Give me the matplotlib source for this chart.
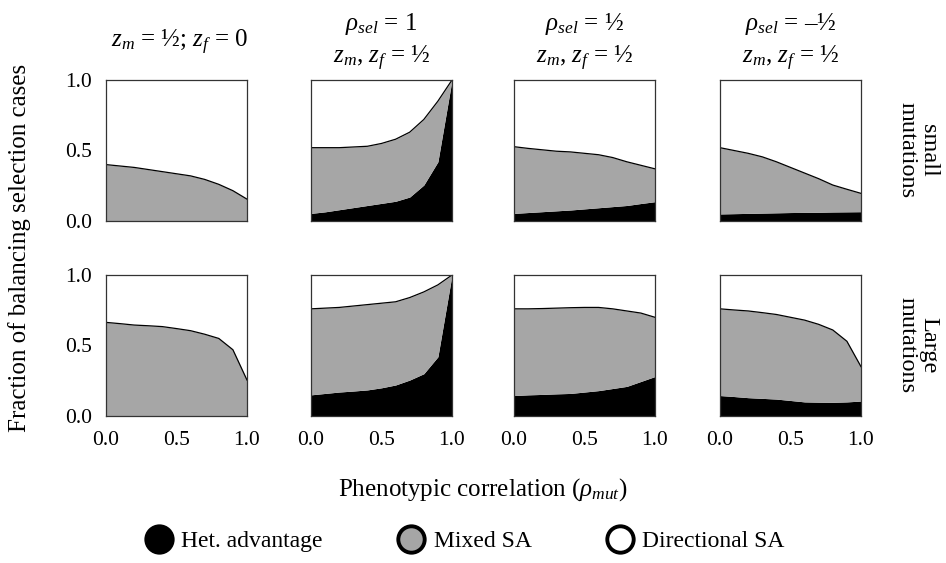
import numpy as np
import matplotlib
matplotlib.use('Agg')
import matplotlib.pyplot as plt
from matplotlib.lines import Line2D

plt.rcParams['font.family'] = 'Liberation Serif'
plt.rcParams['mathtext.fontset'] = 'custom'
plt.rcParams['mathtext.rm'] = 'Liberation Serif'
plt.rcParams['mathtext.it'] = 'Liberation Serif:italic'

rho_mut = [0.0, 0.1, 0.2, 0.3, 0.4, 0.5, 0.6, 0.7, 0.8, 0.9, 1.0]

# cumulative fractions: het advantage (bottom) and het + mixed SA (top)
small_het = [
    [0, 0, 0, 0, 0, 0, 0, 0, 0, 0, 0],
    [0.054, 0.065, 0.08, 0.095, 0.11, 0.125, 0.14, 0.17, 0.255, 0.42, 1.0],
    [0.054, 0.06, 0.066, 0.072, 0.078, 0.086, 0.094, 0.102, 0.11, 0.124, 0.137],
    [0.05, 0.052, 0.054, 0.056, 0.058, 0.06, 0.061, 0.062, 0.064, 0.065, 0.066],
]
small_top = [
    [0.40, 0.39, 0.38, 0.365, 0.35, 0.335, 0.32, 0.295, 0.26, 0.215, 0.155],
    [0.52, 0.52, 0.52, 0.525, 0.53, 0.55, 0.58, 0.63, 0.72, 0.85, 1.0],
    [0.527, 0.515, 0.505, 0.495, 0.49, 0.48, 0.47, 0.45, 0.42, 0.395, 0.37],
    [0.52, 0.50, 0.48, 0.455, 0.42, 0.38, 0.34, 0.30, 0.255, 0.225, 0.196],
]
large_het = [
    [0, 0, 0, 0, 0, 0, 0, 0, 0, 0, 0],
    [0.15, 0.16, 0.17, 0.177, 0.185, 0.20, 0.22, 0.255, 0.30, 0.42, 1.0],
    [0.145, 0.15, 0.153, 0.157, 0.16, 0.17, 0.18, 0.195, 0.21, 0.245, 0.28],
    [0.145, 0.138, 0.13, 0.125, 0.12, 0.11, 0.10, 0.098, 0.097, 0.10, 0.106],
]
large_top = [
    [0.664, 0.655, 0.645, 0.64, 0.634, 0.62, 0.605, 0.58, 0.55, 0.47, 0.255],
    [0.76, 0.765, 0.77, 0.78, 0.79, 0.80, 0.81, 0.84, 0.88, 0.93, 1.0],
    [0.76, 0.76, 0.762, 0.765, 0.768, 0.77, 0.77, 0.76, 0.745, 0.73, 0.70],
    [0.76, 0.752, 0.745, 0.733, 0.72, 0.70, 0.68, 0.65, 0.61, 0.53, 0.35],
]

# column headers: (first line, second line)
col_titles = [(None, r'$z_m$ = ½; $z_f$ = 0'),
              (r'$\rho_{sel}$ = 1', r'$z_m$, $z_f$ = ½'),
              (r'$\rho_{sel}$ = ½', r'$z_m$, $z_f$ = ½'),
              (r'$\rho_{sel}$ = –½', r'$z_m$, $z_f$ = ½')]
row_labels = ['small\nmutations', 'Large\nmutations']

GRAY = '#a6a6a6'
W, H = 946, 563
fig = plt.figure(figsize=(W / 100, H / 100), dpi=100)

lefts = [106, 311, 514, 720]
tops = [80, 275]
pw, ph = 141, 141

rows = [(small_het, small_top), (large_het, large_top)]
for r, (het, top) in enumerate(rows):
    for c in range(4):
        ax = fig.add_axes([lefts[c] / W, 1 - (tops[r] + ph) / H, pw / W, ph / H])
        x = np.array(rho_mut)
        ax.fill_between(x, 0, het[c], color='black', lw=0)
        ax.fill_between(x, het[c], top[c], color=GRAY, lw=0)
        ax.plot(x, top[c], color='black', lw=0.9)
        ax.set_xlim(0, 1)
        ax.set_ylim(0, 1)
        for s in ax.spines.values():
            s.set_color('#333333')
            s.set_linewidth(0.9)
        ax.tick_params(length=0, labelsize=15.5)
        ax.tick_params(axis='y', pad=10)
        ax.tick_params(axis='x', pad=11)
        ax.set_xticks([0, 0.5, 1.0])
        ax.set_yticks([0, 0.5, 1.0])
        if c == 0:
            ax.set_yticklabels(['0.0', '0.5', '1.0'])
        else:
            ax.set_yticklabels([])
        if r == 1:
            ax.set_xticklabels(['0.0', '0.5', '1.0'])
        else:
            ax.set_xticklabels([])

for c, (line1, line2) in enumerate(col_titles):
    xc = (lefts[c] + pw / 2) / W
    if line1 is None:
        fig.text(xc + 3 / W, 1 - 42 / H, line2, ha='center', va='center', fontsize=18)
    else:
        fig.text(xc, 1 - 24 / H, line1, ha='center', va='center', fontsize=18)
        fig.text(xc, 1 - 58 / H, line2, ha='center', va='center', fontsize=18)

for r, label in enumerate(row_labels):
    fig.text(918 / W, 1 - (tops[r] + ph / 2) / H, label, rotation=270,
             ha='center', va='center', fontsize=17.5, linespacing=1.05)

fig.text(20 / W, 1 - 248 / H, 'Fraction of balancing selection cases', rotation=90,
         ha='center', va='center', fontsize=18)
fig.text(483 / W, 1 - 490 / H, r'Phenotypic correlation ($\rho_{mut}$)',
         ha='center', va='center', fontsize=18)

handles = [Line2D([], [], ls='none', marker='o', ms=19, mfc=fc, mec='black', mew=2.8)
           for fc in ['black', GRAY, 'white']]
fig.legend(handles, ['Het. advantage', 'Mixed SA', 'Directional SA'],
           loc='center', bbox_to_anchor=(464 / W, 1 - 541 / H), ncol=3, frameon=False,
           fontsize=17, handletextpad=0.3, columnspacing=3.1, handlelength=1.3)

fig.savefig('out.png', dpi=100)
